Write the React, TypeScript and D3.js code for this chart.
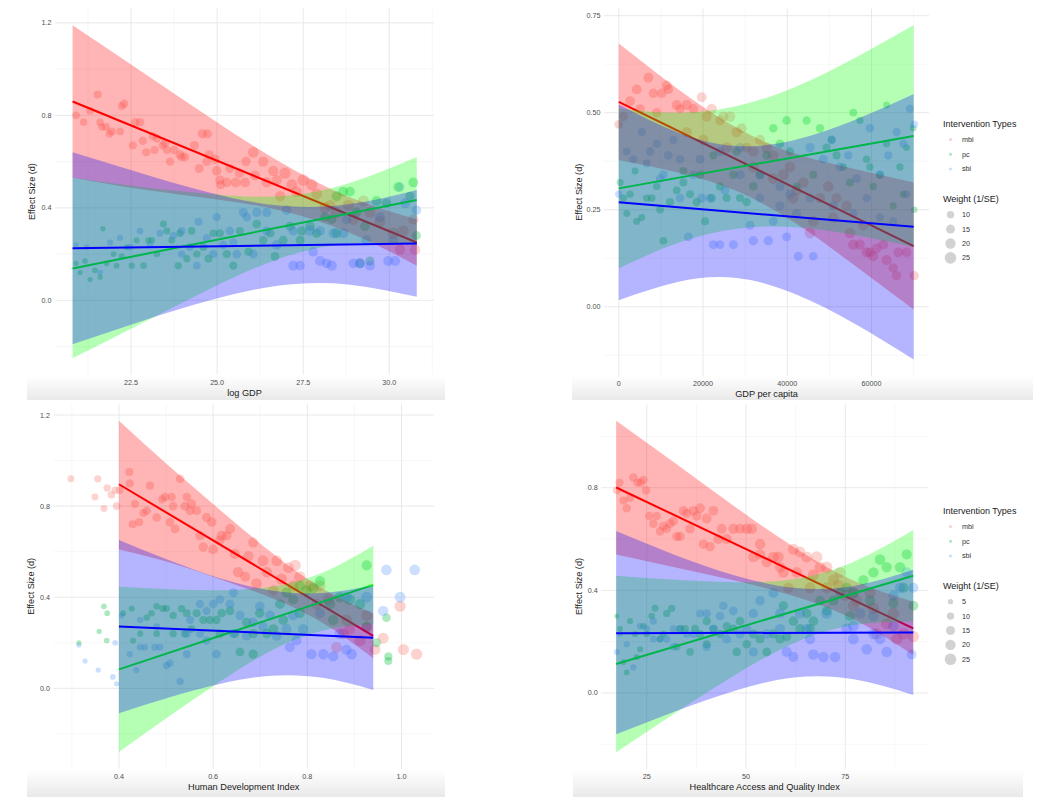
import * as d3 from "d3";

type Pt = [number, number, number]; // x, effect size, weight

const groups = ["mbi", "pc", "sbi"];
const pointColors = ["#F8766D", "#00BA38", "#619CFF"];
const fitColors = ["#FF0000", "#00FF00", "#0000FF"];
const weightBreaksTop = [10, 15, 20, 25];
const weightBreaksBottom = [5, 10, 15, 20, 25];

// ---------- panel 1 : log GDP ----------
const logGdpMbi: Pt[] = [
  [20.90,0.80,11],[21.12,0.77,10],[21.31,0.82,11],[21.53,0.89,12],[21.60,0.77,11],[21.65,0.75,10],[21.77,0.75,12],[21.87,0.72,11],
  [21.94,0.73,12],[22.18,0.73,11],[22.23,0.84,12],[22.30,0.85,13],[22.55,0.67,13],[22.62,0.77,13],[22.76,0.77,14],[22.84,0.69,13],
  [22.94,0.64,12],[23.13,0.71,13],[23.18,0.65,12],[23.25,0.70,14],[23.42,0.67,13],[23.49,0.68,14],[23.54,0.65,12],[23.63,0.60,13],
  [23.75,0.65,14],[23.92,0.63,15],[23.97,0.62,14],[24.07,0.62,13],[24.34,0.67,15],[24.57,0.72,16],[24.72,0.72,15],[24.48,0.57,15],
  [24.70,0.60,14],[24.77,0.63,15],[24.94,0.61,16],[24.99,0.56,17],[25.08,0.52,16],[25.10,0.50,15],[25.28,0.51,17],[25.37,0.57,16],
  [25.54,0.51,18],[25.65,0.55,17],[25.81,0.51,18],[25.84,0.60,17],[26.05,0.64,22],[26.10,0.54,18],[26.34,0.60,20],[26.44,0.51,19],
  [26.63,0.56,20],[26.73,0.52,19],[26.97,0.55,24],[26.83,0.45,20],[27.17,0.50,22],[27.31,0.47,21],[27.50,0.52,25],[27.75,0.50,24],
  [27.89,0.46,22],[28.13,0.40,24],[28.28,0.41,23],[28.47,0.38,25],[28.81,0.41,24],[28.96,0.35,23],[29.25,0.43,24],[29.44,0.38,22],
  [29.73,0.34,25],[30.12,0.29,24],[30.41,0.30,22],[30.70,0.35,20],[30.75,0.22,21],[30.31,0.22,20],
];
const logGdpPc: Pt[] = [
  [20.90,0.16,5],[21.02,0.12,5],[21.16,0.17,6],[21.31,0.09,5],[21.45,0.13,6],[21.60,0.10,5],[21.68,0.31,5],[21.79,0.16,6],
  [21.99,0.20,6],[22.08,0.15,6],[22.23,0.19,7],[22.37,0.23,6],[22.52,0.15,7],[22.66,0.26,7],[22.86,0.15,8],[23.00,0.26,7],
  [23.10,0.26,8],[23.25,0.20,8],[23.44,0.33,9],[23.54,0.30,9],[23.68,0.26,9],[23.87,0.15,10],[23.92,0.29,10],[24.12,0.18,10],
  [24.26,0.30,11],[24.41,0.20,10],[24.60,0.23,11],[24.75,0.18,12],[24.89,0.29,11],[25.08,0.29,12],[25.28,0.20,13],[25.47,0.15,13],
  [25.66,0.30,12],[25.91,0.21,13],[26.15,0.33,14],[26.34,0.26,13],[26.54,0.29,14],[26.68,0.19,14],[26.92,0.26,15],[27.12,0.32,16],
  [27.41,0.26,15],[27.46,0.30,16],[27.70,0.32,17],[27.89,0.29,16],[28.13,0.36,17],[28.33,0.35,16],[28.47,0.29,18],[28.66,0.47,18],
  [28.86,0.47,17],[29.05,0.38,18],[29.29,0.32,17],[29.63,0.43,18],[29.92,0.42,17],[30.26,0.49,18],[30.60,0.45,16],[30.70,0.51,18],
  [30.79,0.28,15],[29.44,0.17,16],[29.15,0.16,17],[28.47,0.45,18],
];
const logGdpSbi: Pt[] = [
  [20.90,0.24,5],[21.21,0.23,6],[21.60,0.12,6],[21.89,0.25,7],[22.18,0.27,7],[22.47,0.23,8],[22.76,0.30,8],[23.05,0.24,9],
  [23.34,0.29,9],[23.73,0.28,10],[23.97,0.30,11],[24.21,0.23,11],[24.46,0.34,12],[24.70,0.27,12],[24.99,0.36,13],[25.18,0.24,13],
  [25.37,0.30,14],[25.57,0.20,14],[25.76,0.38,15],[26.05,0.20,15],[26.15,0.38,16],[26.44,0.38,16],[26.73,0.24,17],[27.02,0.39,17],
  [27.21,0.15,18],[27.41,0.15,17],[27.70,0.30,18],[27.79,0.21,17],[27.99,0.17,19],[28.18,0.16,18],[28.33,0.15,19],[28.38,0.29,18],
  [28.67,0.29,19],[28.96,0.16,18],[29.15,0.16,19],[29.44,0.15,18],[29.73,0.36,19],[29.97,0.17,18],[30.17,0.17,19],[30.31,0.49,17],
  [30.46,0.42,18],[30.79,0.39,17],[30.12,0.26,18],[29.34,0.26,19],[28.76,0.35,18],[27.99,0.30,17],[27.21,0.30,16],[26.44,0.30,15],
  [25.86,0.36,14],[25.47,0.25,13],[24.89,0.20,12],[24.41,0.15,11],[23.97,0.20,10],
];
const logGdpLineX = [20.8, 30.8];
const logGdpLines = [[0.86, 0.25], [0.138, 0.434], [0.225, 0.246]];
const logGdpBandX = [20.8, 22.8, 24.8, 26.8, 28.8, 30.8];
const logGdpBandLo = [
  [0.53, 0.48, 0.44, 0.39, 0.295, 0.15],
  [-0.25, -0.10, 0.05, 0.18, 0.245, 0.24],
  [-0.19, -0.09, 0.0, 0.064, 0.069, 0.015],
];
const logGdpBandHi = [
  [1.19, 0.99, 0.79, 0.60, 0.449, 0.35],
  [0.53, 0.49, 0.46, 0.45, 0.505, 0.62],
  [0.64, 0.55, 0.465, 0.41, 0.415, 0.477],
];

// ---------- panel 2 : GDP per capita ----------
const gdpPcMbi: Pt[] = [
  [0,0.47,14],[1100,0.49,16],[2680,0.53,18],[4260,0.56,18],[5050,0.51,16],[7030,0.59,18],[8220,0.55,17],[9010,0.50,16],
  [10200,0.55,17],[11380,0.57,18],[11780,0.56,17],[13750,0.52,18],[14540,0.51,16],[16120,0.52,19],[17710,0.51,17],[19680,0.54,18],
  [20870,0.49,19],[22060,0.51,20],[24030,0.48,18],[24820,0.49,19],[26400,0.49,21],[27980,0.45,20],[29170,0.46,19],[30360,0.41,18],
  [31940,0.40,20],[33520,0.43,19],[35100,0.41,21],[36680,0.39,20],[39050,0.34,22],[40640,0.36,21],[42220,0.30,20],[43800,0.32,21],
  [45380,0.19,22],[47750,0.28,20],[49730,0.31,21],[51710,0.28,20],[54080,0.26,21],[55660,0.16,20],[57240,0.16,19],[58820,0.14,20],
  [59610,0.14,18],[60400,0.13,19],[61190,0.15,18],[63560,0.12,19],[65140,0.10,17],[66330,0.14,18],[68310,0.14,17],[70130,0.08,16],
  [65940,0.08,17],[62780,0.16,18],[16120,0.45,20],[20070,0.43,21],[25610,0.41,22],[31940,0.36,22],[36680,0.33,21],[41430,0.28,22],
  [46170,0.22,21],[50910,0.23,20],[54870,0.19,21],[58030,0.21,20],
];
const gdpPcPc: Pt[] = [
  [310,0.32,9],[1100,0.28,10],[1890,0.24,9],[2680,0.29,10],[3870,0.35,9],[4260,0.22,10],[5450,0.23,9],[6630,0.28,10],
  [7820,0.28,11],[9010,0.31,10],[9800,0.25,11],[10590,0.17,11],[12170,0.27,12],[13750,0.30,11],[15330,0.32,12],[16910,0.29,12],
  [18500,0.27,13],[20470,0.22,12],[22060,0.28,13],[24030,0.31,13],[25610,0.28,12],[27190,0.34,13],[28770,0.28,12],[30360,0.27,13],
  [31940,0.31,14],[33520,0.34,13],[35100,0.39,14],[36680,0.46,13],[38260,0.42,14],[40640,0.40,13],[42220,0.31,12],[44590,0.48,13],
  [46170,0.34,12],[47750,0.46,13],[49330,0.41,12],[50520,0.43,11],[51710,0.39,12],[53290,0.36,11],[54870,0.32,12],[55660,0.50,11],
  [57240,0.48,10],[58820,0.38,11],[60400,0.31,10],[61990,0.34,11],[63570,0.42,10],[65150,0.26,9],[66730,0.36,10],[68310,0.41,9],
  [69890,0.46,8],[70130,0.25,8],[67520,0.29,9],[63570,0.52,9],[59610,0.36,10],[39850,0.48,14],[27990,0.40,14],[22450,0.39,13],
  [19290,0.34,13],[15330,0.35,12],
];
const gdpPcSbi: Pt[] = [
  [0,0.29,10],[1890,0.40,11],[3470,0.38,12],[5450,0.45,12],[7430,0.40,13],[9010,0.42,12],[10590,0.34,13],[11770,0.39,14],
  [12960,0.43,13],[14540,0.28,14],[16520,0.18,15],[17710,0.34,14],[19680,0.28,15],[21660,0.28,14],[22450,0.16,15],[24030,0.16,14],
  [25220,0.30,15],[27200,0.16,15],[28780,0.34,16],[31150,0.21,15],[31940,0.17,16],[33520,0.28,15],[35500,0.17,16],[36690,0.22,15],
  [38270,0.31,16],[39850,0.18,15],[40640,0.29,16],[42620,0.13,15],[45390,0.41,16],[46180,0.13,14],[48550,0.38,15],[50530,0.43,14],
  [52500,0.36,15],[54480,0.39,13],[56460,0.33,14],[58830,0.28,13],[59620,0.46,14],[61990,0.34,13],[63970,0.39,12],[65950,0.45,13],
  [67530,0.42,12],[69110,0.51,12],[70140,0.47,11],[68320,0.29,12],[65150,0.22,12],[61990,0.23,13],[55660,0.24,14],[50910,0.26,15],
  [45380,0.28,15],[42220,0.24,16],[38270,0.26,16],[33530,0.34,17],[28780,0.41,16],[24030,0.40,15],[19280,0.38,15],[14540,0.38,14],
  [9800,0.33,13],[6630,0.37,12],
];
const gdpPcLineX = [0, 70000];
const gdpPcLines = [[0.528, 0.156], [0.305, 0.44], [0.269, 0.206]];
const gdpPcBandX = [0, 14000, 28000, 42000, 56000, 70000];
const gdpPcBandLo = [
  [0.378, 0.346, 0.298, 0.215, 0.106, -0.007],
  [0.099, 0.164, 0.201, 0.205, 0.185, 0.154],
  [0.017, 0.064, 0.074, 0.032, -0.044, -0.136],
];
const gdpPcBandHi = [
  [0.678, 0.561, 0.461, 0.394, 0.355, 0.32],
  [0.511, 0.50, 0.517, 0.567, 0.641, 0.726],
  [0.521, 0.449, 0.414, 0.430, 0.481, 0.548],
];

// ---------- panel 3 : Human Development Index ----------
const hdiMbi: Pt[] = [
  [0.298,0.92,9],[0.349,0.84,9],[0.355,0.92,10],[0.368,0.79,9],[0.375,0.88,10],[0.384,0.85,11],[0.392,0.87,10],[0.395,0.80,11],
  [0.401,0.87,11],[0.422,0.95,12],[0.423,0.90,13],[0.429,0.72,12],[0.434,0.81,13],[0.443,0.73,13],[0.452,0.77,12],[0.459,0.78,13],
  [0.466,0.89,12],[0.480,0.75,14],[0.492,0.83,13],[0.498,0.84,14],[0.508,0.73,14],[0.512,0.84,13],[0.515,0.80,14],[0.519,0.70,15],
  [0.530,0.92,14],[0.540,0.80,15],[0.544,0.84,14],[0.551,0.78,15],[0.554,0.81,16],[0.565,0.78,15],[0.572,0.67,16],[0.579,0.62,17],
  [0.586,0.75,16],[0.597,0.73,17],[0.600,0.61,18],[0.614,0.65,17],[0.618,0.67,18],[0.629,0.67,17],[0.636,0.70,18],[0.646,0.59,19],
  [0.653,0.51,20],[0.668,0.49,19],[0.675,0.58,20],[0.685,0.64,19],[0.692,0.46,21],[0.706,0.56,22],[0.714,0.51,21],[0.735,0.56,22],
  [0.745,0.48,23],[0.760,0.53,22],[0.774,0.54,24],[0.784,0.49,23],[0.806,0.45,24],[0.827,0.45,23],[0.844,0.39,24],[0.862,0.18,22],
  [0.876,0.24,23],[0.890,0.26,22],[0.912,0.21,23],[0.926,0.27,22],[0.944,0.17,21],[0.961,0.22,22],[0.997,0.36,24],[1.004,0.17,23],
  [1.032,0.15,24],[0.926,0.32,22],[0.883,0.30,23],[0.820,0.37,22],[0.770,0.45,21],[0.728,0.43,20],
];
const hdiPc: Pt[] = [
  [0.315,0.20,5],[0.358,0.25,5],[0.368,0.36,6],[0.375,0.33,6],[0.374,0.21,6],[0.409,0.33,6],[0.427,0.35,7],[0.445,0.24,7],
  [0.459,0.31,8],[0.469,0.33,8],[0.480,0.36,8],[0.493,0.35,9],[0.501,0.35,9],[0.515,0.32,10],[0.533,0.35,10],[0.540,0.24,11],
  [0.554,0.26,11],[0.565,0.33,12],[0.579,0.30,12],[0.593,0.30,13],[0.607,0.30,13],[0.618,0.33,14],[0.636,0.34,14],[0.646,0.24,15],
  [0.657,0.16,15],[0.671,0.29,16],[0.685,0.15,16],[0.699,0.33,17],[0.714,0.24,17],[0.728,0.26,18],[0.742,0.37,18],[0.756,0.42,19],
  [0.770,0.39,19],[0.784,0.45,20],[0.798,0.43,20],[0.813,0.44,21],[0.827,0.47,20],[0.848,0.37,21],[0.869,0.40,20],[0.890,0.39,21],
  [0.912,0.37,20],[0.926,0.54,19],[0.947,0.20,15],[0.968,0.31,14],[0.972,0.14,13],[0.972,0.12,12],[0.926,0.27,20],[0.855,0.30,21],
  [0.784,0.33,19],[0.749,0.30,18],[0.685,0.24,16],[0.614,0.24,14],[0.544,0.33,11],[0.480,0.24,8],[0.430,0.21,7],[0.515,0.24,10],
];
const hdiSbi: Pt[] = [
  [0.315,0.19,5],[0.328,0.12,5],[0.356,0.08,5],[0.387,0.05,6],[0.392,0.20,6],[0.395,0.02,5],[0.406,0.32,6],[0.423,0.15,7],
  [0.437,0.08,7],[0.445,0.18,8],[0.455,0.18,8],[0.476,0.18,9],[0.487,0.18,9],[0.501,0.10,10],[0.508,0.11,10],[0.530,0.03,10],
  [0.544,0.24,12],[0.551,0.30,12],[0.572,0.37,13],[0.586,0.34,13],[0.600,0.37,14],[0.614,0.39,14],[0.636,0.37,15],[0.643,0.42,15],
  [0.657,0.32,16],[0.671,0.23,16],[0.685,0.29,17],[0.699,0.36,17],[0.721,0.32,18],[0.735,0.23,18],[0.756,0.26,19],[0.763,0.18,18],
  [0.777,0.21,19],[0.791,0.26,20],[0.809,0.15,20],[0.834,0.15,21],[0.855,0.14,20],[0.869,0.24,21],[0.883,0.17,20],[0.894,0.15,21],
  [0.926,0.40,22],[0.961,0.34,20],[0.968,0.52,21],[0.997,0.40,22],[1.028,0.52,21],[0.883,0.40,21],[0.827,0.33,20],[0.770,0.32,19],
  [0.706,0.27,17],[0.643,0.24,15],[0.586,0.21,13],[0.544,0.15,12],[0.480,0.27,9],[0.445,0.30,8],[0.572,0.24,13],[0.607,0.15,14],
];
const hdiLineX = [0.4, 0.94];
const hdiLines = [[0.896, 0.23], [0.083, 0.454], [0.271, 0.222]];
const hdiBandX = [0.4, 0.508, 0.616, 0.724, 0.832, 0.94];
const hdiBandLo = [
  [0.61, 0.552, 0.478, 0.397, 0.288, 0.132],
  [-0.28, -0.121, 0.031, 0.166, 0.253, 0.282],
  [-0.109, -0.039, 0.02, 0.055, 0.046, -0.007],
];
const hdiBandHi = [
  [1.175, 0.973, 0.781, 0.596, 0.438, 0.328],
  [0.446, 0.435, 0.431, 0.446, 0.507, 0.626],
  [0.651, 0.561, 0.482, 0.429, 0.418, 0.451],
];

// ---------- panel 4 : Healthcare Access and Quality Index ----------
const haqMbi: Pt[] = [
  [17.45,0.79,12],[18.12,0.82,13],[19.13,0.75,12],[19.96,0.72,13],[20.80,0.76,12],[21.64,0.84,14],[22.65,0.82,13],[23.49,0.82,14],
  [24.16,0.83,13],[24.83,0.79,14],[25.67,0.69,13],[26.68,0.66,14],[27.52,0.69,13],[28.36,0.63,14],[29.20,0.65,15],[30.04,0.64,14],
  [30.87,0.66,15],[31.71,0.67,16],[32.55,0.61,15],[33.39,0.61,16],[34.23,0.71,17],[35.07,0.70,16],[35.91,0.64,17],[36.75,0.71,18],
  [37.59,0.69,17],[38.43,0.72,18],[39.27,0.58,17],[40.11,0.68,18],[40.94,0.57,17],[41.78,0.71,18],[43.04,0.60,19],[43.88,0.64,18],
  [45.14,0.60,19],[46.82,0.64,20],[48.50,0.64,19],[50.18,0.64,20],[51.43,0.64,21],[51.85,0.53,20],[53.53,0.58,21],[55.21,0.51,20],
  [56.89,0.53,21],[58.15,0.53,22],[59.41,0.47,21],[60.67,0.41,20],[61.92,0.56,22],[63.60,0.55,21],[65.28,0.53,22],[66.96,0.46,23],
  [67.80,0.53,24],[68.64,0.49,23],[70.32,0.49,24],[72.00,0.44,23],[73.26,0.42,24],[74.93,0.38,23],[77.03,0.39,24],[77.87,0.36,23],
  [81.23,0.39,24],[82.90,0.23,23],[85.42,0.27,25],[87.94,0.21,24],[89.62,0.23,25],[92.14,0.22,24],[87.10,0.31,25],[82.07,0.33,24],
  [77.03,0.34,23],[73.67,0.47,22],[70.32,0.41,23],[66.12,0.41,22],[62.76,0.47,21],[58.57,0.49,21],[53.53,0.54,20],
];
const haqPc: Pt[] = [
  [17.45,0.30,5],[18.29,0.25,6],[19.13,0.12,6],[19.96,0.08,6],[20.80,0.28,7],[22.06,0.23,7],[23.32,0.17,7],[24.16,0.26,8],
  [25.00,0.23,8],[26.26,0.30,8],[27.10,0.33,9],[28.36,0.21,9],[30.04,0.31,10],[31.29,0.33,10],[32.55,0.18,10],[33.39,0.25,11],
  [34.65,0.25,11],[35.91,0.16,11],[37.17,0.25,12],[38.43,0.23,12],[40.11,0.19,12],[41.78,0.25,13],[43.46,0.23,13],[45.14,0.26,13],
  [46.82,0.25,14],[48.50,0.28,14],[50.18,0.19,14],[51.85,0.23,15],[53.53,0.21,15],[55.21,0.16,15],[56.89,0.23,16],[58.57,0.21,16],
  [60.25,0.22,16],[61.92,0.28,17],[63.60,0.25,17],[65.28,0.31,17],[66.96,0.28,18],[68.64,0.36,18],[70.32,0.32,18],[72.00,0.36,19],
  [73.67,0.39,19],[75.35,0.41,19],[77.03,0.39,20],[79.55,0.44,20],[82.07,0.47,20],[83.74,0.52,21],[85.42,0.49,20],[87.10,0.35,19],
  [88.78,0.49,20],[90.46,0.54,19],[92.14,0.34,18],[89.62,0.41,19],[81.23,0.36,20],[76.19,0.30,19],[66.12,0.25,17],[59.41,0.34,16],
  [47.66,0.16,14],[40.11,0.28,12],[29.20,0.23,9],[22.48,0.14,7],
];
const haqSbi: Pt[] = [
  [17.45,0.16,6],[18.29,0.23,6],[19.96,0.19,7],[21.64,0.10,7],[23.32,0.26,8],[25.00,0.25,8],[26.68,0.21,9],[28.36,0.21,9],
  [30.04,0.21,10],[31.71,0.18,10],[33.39,0.25,11],[35.07,0.23,11],[36.75,0.23,12],[38.43,0.31,12],[40.11,0.18,13],[41.78,0.25,13],
  [43.46,0.30,14],[44.30,0.34,14],[46.82,0.32,15],[48.50,0.23,15],[50.18,0.25,16],[51.85,0.31,16],[53.53,0.36,17],[55.21,0.23,17],
  [56.89,0.39,18],[58.57,0.31,18],[60.25,0.16,19],[61.92,0.14,19],[63.60,0.31,20],[65.28,0.25,20],[66.96,0.15,21],[69.48,0.14,21],
  [72.42,0.14,21],[75.35,0.25,22],[77.03,0.26,22],[78.71,0.31,22],[80.39,0.17,21],[82.07,0.30,22],[83.74,0.21,21],[85.42,0.16,21],
  [87.10,0.38,20],[88.78,0.41,20],[90.46,0.47,19],[92.14,0.41,19],[91.72,0.15,18],[87.10,0.26,21],[82.07,0.23,22],[77.03,0.21,22],
  [70.32,0.31,21],[66.12,0.21,20],[58.57,0.25,18],[51.85,0.16,16],[45.14,0.21,15],[40.11,0.31,13],[31.71,0.25,10],[26.68,0.28,9],
];
const haqLineX = [17.3, 92.1];
const haqLines = [[0.801, 0.252], [0.113, 0.457], [0.2325, 0.236]];
const haqBandX = [17.3, 32.26, 47.22, 62.18, 77.14, 92.1];
const haqBandLo = [
  [0.54, 0.489, 0.438, 0.377, 0.287, 0.148],
  [-0.231, -0.077, 0.07, 0.195, 0.265, 0.279],
  [-0.161, -0.071, 0.009, 0.06, 0.053, -0.008],
];
const haqBandHi = [
  [1.061, 0.894, 0.726, 0.567, 0.437, 0.356],
  [0.457, 0.441, 0.432, 0.444, 0.511, 0.635],
  [0.631, 0.537, 0.458, 0.41, 0.417, 0.48],
];

// ---------- layout ----------
const FONT = "'Liberation Sans', Arial, Helvetica, sans-serif";
const rScale = d3.scaleSqrt().domain([0, 25]).range([0, 5.8]);

type Panel = {
  id: string;
  xTitle: string;
  points: Pt[][];
  lineX: number[];
  lines: number[][];
  bandX: number[];
  bandLo: number[][];
  bandHi: number[][];
  xTicks: number[];
  xLabels: string[];
  xMinor: number[];
  yTicks: number[];
  yLabels: string[];
  yMinor: number[];
  xLim: [number, number];
  yLim: [number, number];
  box: [number, number, number, number]; // x0, x1, y0, y1
  yTitleX: number;
  shade: [number, number, number, number];
  legend: number[] | null;
  legendAt: [number, number];
};

const panels: Panel[] = [
  {
    id: "p1", xTitle: "log GDP",
    points: [logGdpMbi, logGdpPc, logGdpSbi], lineX: logGdpLineX, lines: logGdpLines,
    bandX: logGdpBandX, bandLo: logGdpBandLo, bandHi: logGdpBandHi,
    xTicks: [22.5, 25, 27.5, 30], xLabels: ["22.5", "25.0", "27.5", "30.0"], xMinor: [21.25, 23.75, 26.25, 28.75, 31.25],
    yTicks: [0, 0.4, 0.8, 1.2], yLabels: ["0.0", "0.4", "0.8", "1.2"], yMinor: [-0.2, 0.2, 0.6, 1.0],
    xLim: [20.29, 31.3], yLim: [-0.322, 1.262], box: [55, 434, 8.5, 374.8], yTitleX: 35,
    shade: [27, 376, 418, 24], legend: null, legendAt: [0, 0],
  },
  {
    id: "p2", xTitle: "GDP per capita",
    points: [gdpPcMbi, gdpPcPc, gdpPcSbi], lineX: gdpPcLineX, lines: gdpPcLines,
    bandX: gdpPcBandX, bandLo: gdpPcBandLo, bandHi: gdpPcBandHi,
    xTicks: [0, 20000, 40000, 60000], xLabels: ["0", "20000", "40000", "60000"], xMinor: [10000, 30000, 50000, 70000],
    yTicks: [0, 0.25, 0.5, 0.75], yLabels: ["0.00", "0.25", "0.50", "0.75"], yMinor: [-0.125, 0.125, 0.375, 0.625],
    xLim: [-3507, 73640], yLim: [-0.179, 0.769], box: [604, 929, 8.3, 376.2], yTitleX: 582,
    shade: [572, 376, 461, 24], legend: weightBreaksTop, legendAt: [943, 127],
  },
  {
    id: "p3", xTitle: "Human Development Index",
    points: [hdiMbi, hdiPc, hdiSbi], lineX: hdiLineX, lines: hdiLines,
    bandX: hdiBandX, bandLo: hdiBandLo, bandHi: hdiBandHi,
    xTicks: [0.4, 0.6, 0.8, 1.0], xLabels: ["0.4", "0.6", "0.8", "1.0"], xMinor: [0.3, 0.5, 0.7, 0.9],
    yTicks: [0, 0.4, 0.8, 1.2], yLabels: ["0.0", "0.4", "0.8", "1.2"], yMinor: [-0.2, 0.2, 0.6, 1.0],
    xLim: [0.261, 1.069], yLim: [-0.353, 1.248], box: [53.5, 434, 404.1, 768.7], yTitleX: 34,
    shade: [27, 770, 418, 27], legend: null, legendAt: [0, 0],
  },
  {
    id: "p4", xTitle: "Healthcare Access and Quality Index",
    points: [haqMbi, haqPc, haqSbi], lineX: haqLineX, lines: haqLines,
    bandX: haqBandX, bandLo: haqBandLo, bandHi: haqBandHi,
    xTicks: [25, 50, 75], xLabels: ["25", "50", "75"], xMinor: [12.5, 37.5, 62.5, 87.5],
    yTicks: [0, 0.4, 0.8], yLabels: ["0.0", "0.4", "0.8"], yMinor: [-0.2, 0.2, 0.6, 1.0],
    xLim: [13.56, 95.84], yLim: [-0.296, 1.126], box: [601.3, 928.1, 404.1, 768.9], yTitleX: 582,
    shade: [573, 770, 450, 27], legend: weightBreaksBottom, legendAt: [943, 514],
  },
];

const PanelView = ({ p }: { p: Panel }) => {
  const [x0, x1, y0, y1] = p.box;
  const x = d3.scaleLinear().domain(p.xLim).range([x0, x1]);
  const y = d3.scaleLinear().domain(p.yLim).range([y1, y0]);
  const inX = (v: number) => x(v) >= x0 - 0.5 && x(v) <= x1 + 0.5;
  const inY = (v: number) => y(v) >= y0 - 0.5 && y(v) <= y1 + 0.5;

  const area = d3
    .area<number>()
    .x((_, i) => x(p.bandX[i]))
    .curve(d3.curveNatural);
  const line = d3.line<number>().x((_, i) => x(p.lineX[i])).y((d) => y(d));
  const cy = (y0 + y1) / 2;

  return (
    <g>
      <rect x={p.shade[0]} y={p.shade[1]} width={p.shade[2]} height={p.shade[3]} fill="url(#shade)" />
      {/* grid */}
      {p.yMinor.filter(inY).map((v) => (
        <line key={"ym" + v} x1={x0} x2={x1} y1={y(v)} y2={y(v)} stroke="#f2f2f2" strokeWidth={0.6} />
      ))}
      {p.xMinor.filter(inX).map((v) => (
        <line key={"xm" + v} x1={x(v)} x2={x(v)} y1={y0} y2={y1} stroke="#f2f2f2" strokeWidth={0.6} />
      ))}
      {p.yTicks.map((v) => (
        <line key={"y" + v} x1={x0} x2={x1} y1={y(v)} y2={y(v)} stroke="#e6e6e6" strokeWidth={0.9} />
      ))}
      {p.xTicks.map((v) => (
        <line key={"x" + v} x1={x(v)} x2={x(v)} y1={y0} y2={y1} stroke="#e6e6e6" strokeWidth={0.9} />
      ))}
      {/* points */}
      {p.points.map((pts, g) => (
        <g key={"pts" + g} fill={pointColors[g]} fillOpacity={0.32}>
          {pts.map((d, i) => (
            <circle key={i} cx={x(d[0])} cy={y(d[1])} r={rScale(d[2])} />
          ))}
        </g>
      ))}
      {/* ribbons + fitted lines, drawn group by group */}
      {groups.map((_, g) => (
        <g key={"fit" + g}>
          <path
            d={area.y0((_, i) => y(p.bandLo[g][i])).y1((_, i) => y(p.bandHi[g][i]))(p.bandX) || ""}
            fill={fitColors[g]}
            fillOpacity={0.29}
          />
          <path d={line(p.lines[g]) || ""} fill="none" stroke={fitColors[g]} strokeWidth={2} />
        </g>
      ))}
      {/* tick labels */}
      <g fontFamily={FONT} fontSize={7.2} fill="#4d4d4d">
        {p.yTicks.map((v, i) => (
          <text key={"yl" + v} x={x0 - 3.5} y={y(v)} dy="0.35em" textAnchor="end">
            {p.yLabels[i]}
          </text>
        ))}
        {p.xTicks.map((v, i) => (
          <text key={"xl" + v} x={x(v)} y={y1 + 10} textAnchor="middle">
            {p.xLabels[i]}
          </text>
        ))}
      </g>
      <text x={(x0 + x1) / 2} y={y1 + 21} textAnchor="middle" fontFamily={FONT} fontSize={9.2} fill="#1a1a1a">
        {p.xTitle}
      </text>
      <text
        transform={`translate(${p.yTitleX},${cy}) rotate(-90)`}
        textAnchor="middle"
        fontFamily={FONT}
        fontSize={9.1}
        fill="#1a1a1a"
      >
        Effect Size (d)
      </text>
      {p.legend && <Legend at={p.legendAt} sizes={p.legend} />}
    </g>
  );
};

const Legend = ({ at, sizes }: { at: [number, number]; sizes: number[] }) => {
  const [lx, ly] = at;
  return (
    <g fontFamily={FONT}>
      <text x={lx} y={ly} fontSize={9} fill="#1a1a1a">Intervention Types</text>
      {groups.map((g, i) => (
        <g key={g}>
          <circle cx={lx + 7.5} cy={ly + 12.5 + i * 14.7} r={1.5} fill={pointColors[i]} fillOpacity={0.35} />
          <text x={lx + 19} y={ly + 12.5 + i * 14.7} dy="0.35em" fontSize={7.2} fill="#333">{g}</text>
        </g>
      ))}
      <text x={lx} y={ly + 75} fontSize={9} fill="#1a1a1a">Weight (1/SE)</text>
      {sizes.map((s, i) => (
        <g key={s}>
          <circle cx={lx + 7.5} cy={ly + 87.7 + i * 14.4} r={rScale(s)} fill="#8a8a8a" fillOpacity={0.38} />
          <text x={lx + 19} y={ly + 87.7 + i * 14.4} dy="0.35em" fontSize={7.2} fill="#333">{s}</text>
        </g>
      ))}
    </g>
  );
};

export default function App() {
  return (
    <svg
      width={1050}
      height={807}
      style={{ position: "absolute", left: 0, top: 0, display: "block", background: "#fff" }}
    >
      <defs>
        <linearGradient id="shade" x1="0" y1="0" x2="0" y2="1">
          <stop offset="0" stopColor="#ffffff" />
          <stop offset="1" stopColor="#e9e9e9" />
        </linearGradient>
      </defs>
      <rect width={1050} height={807} fill="#fff" />
      {panels.map((p) => (
        <PanelView key={p.id} p={p} />
      ))}
    </svg>
  );
}
